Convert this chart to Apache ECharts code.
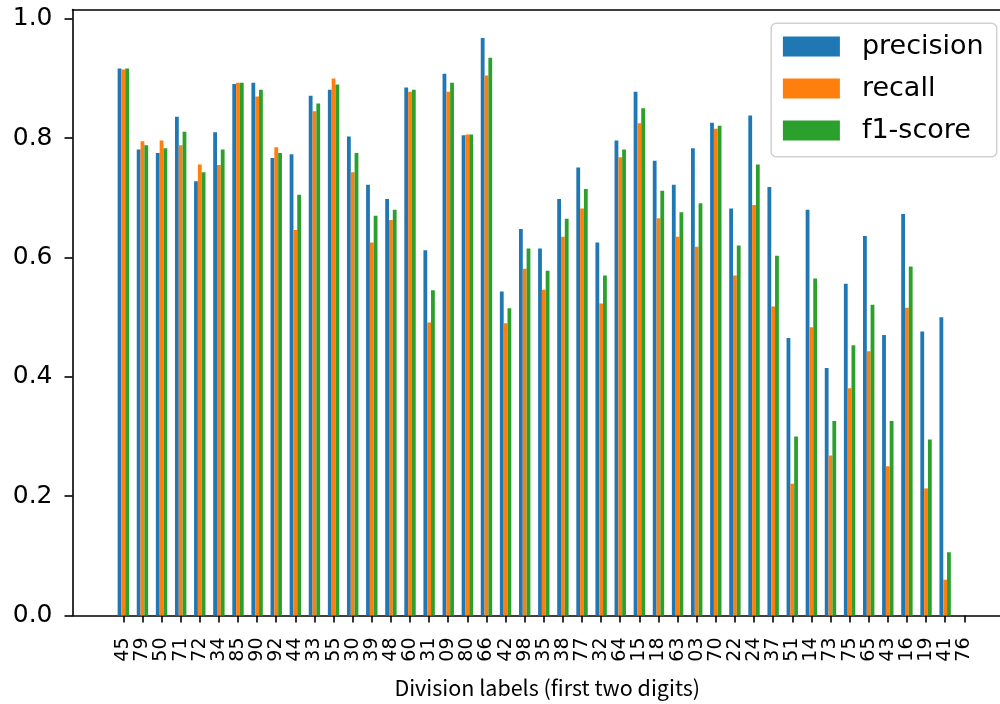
<!DOCTYPE html>
<html>
<head>
<meta charset="utf-8">
<script src="https://cdn.jsdelivr.net/npm/echarts@6/dist/echarts.min.js"></script>
<style>html,body{margin:0;padding:0;background:#fff}#c{width:1000px;height:704px}</style>
</head>
<body>
<div id="c"></div>
<script>
const categories = ['45','79','50','71','72','34','85','90','92','44','33','55','30','39','48','60','31','09','80','66','42','98','35','38','77','32','64','15','18','63','03','70','22','24','37','51','14','73','75','65','43','16','19','41','76'];
const precision = [0.917,0.781,0.775,0.836,0.728,0.810,0.891,0.893,0.767,0.773,0.871,0.881,0.803,0.722,0.698,0.885,0.612,0.908,0.805,0.968,0.543,0.648,0.615,0.698,0.751,0.625,0.796,0.878,0.762,0.722,0.783,0.826,0.682,0.838,0.718,0.465,0.680,0.415,0.556,0.636,0.470,0.673,0.476,0.500,0];
const recall = [0.915,0.795,0.796,0.788,0.756,0.755,0.893,0.870,0.785,0.646,0.845,0.900,0.743,0.625,0.663,0.878,0.491,0.878,0.806,0.905,0.490,0.581,0.546,0.635,0.682,0.523,0.768,0.825,0.666,0.635,0.618,0.816,0.570,0.688,0.518,0.221,0.483,0.268,0.381,0.443,0.250,0.516,0.213,0.060,0];
const f1score = [0.917,0.788,0.783,0.811,0.743,0.781,0.893,0.881,0.775,0.705,0.858,0.890,0.775,0.670,0.680,0.881,0.545,0.893,0.806,0.935,0.515,0.615,0.578,0.665,0.715,0.570,0.781,0.850,0.712,0.676,0.691,0.821,0.620,0.756,0.603,0.300,0.565,0.326,0.453,0.521,0.326,0.585,0.295,0.106,0];
const yTicks = [0, 0.2, 0.4, 0.6, 0.8, 1.0];
const xTitle = 'Division labels (first two digits)';

const xIdx = categories.map((c, i) => i);
const toPts = arr => arr.map((v, i) => [i, v]);

const chart = echarts.init(document.getElementById('c'), null, {renderer: 'canvas'});
const barCommon = {type: 'bar', barWidth: 3.8, barGap: '0%', animation: false, xAxisIndex: 0};
const xMin = -2.66, xMax = 45.87;
chart.setOption({
  animation: false,
  backgroundColor: '#ffffff',
  grid: {left: 72.5, right: 0, top: 9.5, bottom: 85.3, show: false},
  legend: {
    orient: 'vertical', right: 3.3, top: 23.3,
    padding: [9.7, 13, 12.7, 11.7],
    itemWidth: 57, itemHeight: 20, itemGap: 15,
    icon: 'rect',
    borderColor: '#d0d0d0', borderWidth: 1.5, borderRadius: 5,
    backgroundColor: 'rgba(255,255,255,0.8)',
    textStyle: {fontSize: 27, fontFamily: 'DejaVu Sans', color: '#000', padding: [0, 0, 0, 17]},
    data: ['precision', 'recall', 'f1-score']
  },
  xAxis: [{
    type: 'value', min: xMin, max: xMax,
    splitLine: {show: false},
    axisLine: {show: true, onZero: false, lineStyle: {color: '#000', width: 1.6}},
    axisTick: {show: true, length: 7, customValues: xIdx, lineStyle: {color: '#000', width: 1.6}},
    axisLabel: {
      customValues: xIdx, rotate: 90, margin: 22, fontSize: 19, fontFamily: 'DejaVu Sans', color: '#000',
      formatter: v => categories[Math.round(v)] ?? ''
    },
    name: xTitle, nameLocation: 'middle', nameGap: 62,
    nameTextStyle: {fontSize: 21.5, fontFamily: 'Noto Sans CJK SC', color: '#000', padding: [0, 0, 0, 22]}
  }, {
    type: 'value', position: 'top', min: xMin, max: xMax,
    splitLine: {show: false},
    axisLine: {show: true, onZero: false, lineStyle: {color: '#000', width: 1.6}},
    axisTick: {show: false}, axisLabel: {show: false}
  }],
  yAxis: {
    type: 'value', min: 0, max: 1.0157,
    splitLine: {show: false},
    axisLine: {show: true, onZero: false, lineStyle: {color: '#000', width: 1.6}},
    axisTick: {show: true, length: 8, customValues: yTicks, lineStyle: {color: '#000', width: 1.6}},
    axisLabel: {customValues: yTicks, margin: 20, fontSize: 25, fontFamily: 'DejaVu Sans', color: '#000', formatter: v => v.toFixed(1)}
  },
  series: [
    Object.assign({name: 'precision', data: toPts(precision), itemStyle: {color: '#1f77b4'}}, barCommon),
    Object.assign({name: 'recall', data: toPts(recall), itemStyle: {color: '#ff7f0e'}}, barCommon),
    Object.assign({name: 'f1-score', data: toPts(f1score), itemStyle: {color: '#2ca02c'}}, barCommon)
  ]
});
</script>
</body>
</html>
